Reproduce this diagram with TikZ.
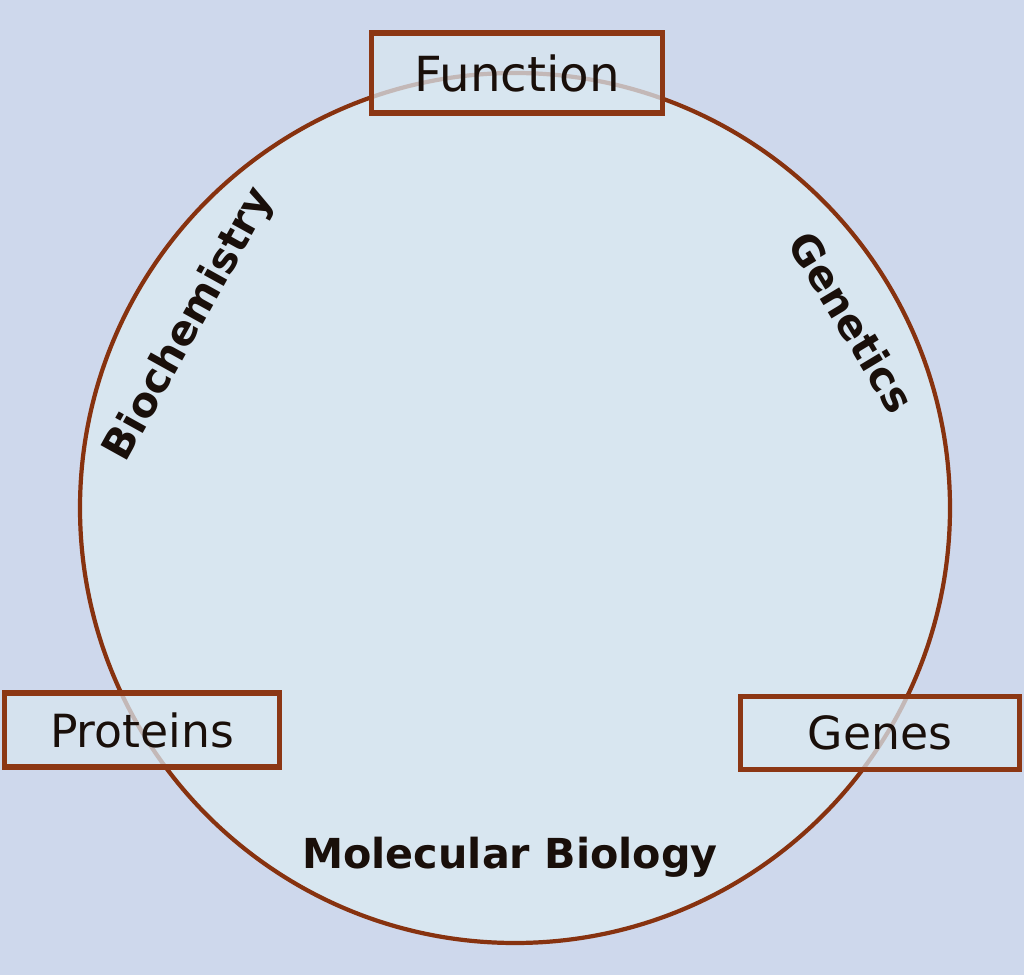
\documentclass[tikz,border=0pt]{standalone}
\usepackage{fontspec}
\setmainfont{DejaVu Sans}
\usetikzlibrary{positioning}

\definecolor{backblue}{RGB}{206,216,236}
\definecolor{innerblue}{RGB}{216,230,240}
\definecolor{ringbrown}{RGB}{135,50,15}
\definecolor{boxbrown}{RGB}{140,55,20}
\definecolor{inkblack}{RGB}{25,15,10}

\tikzset{
    topicbox/.style={draw=boxbrown, line width=3pt, fill=innerblue, fill opacity=0.75,
        draw opacity=1, text opacity=1, text=inkblack, font=\fontsize{26}{28}\selectfont,
        inner sep=0pt},
    fieldlabel/.style={text=inkblack, font=\bfseries\fontsize{23.5}{26}\selectfont, inner sep=0pt}
}

\begin{document}
\begin{tikzpicture}
    \useasboundingbox (0,0) rectangle (20.48,19.5);
    \fill[backblue] (0,0) rectangle (20.48,19.5);
    \coordinate (centre) at (10.3,9.34);
    \fill[innerblue] (centre) circle (8.7);
    \draw[ringbrown, line width=2.4pt] (centre) circle (8.7);
    % the three corners
    \node[topicbox, minimum width=5.82cm, minimum height=1.6cm, font=\fontsize{27.5}{30}\selectfont] (function) at (10.34,18.04) {Function};
    \node[topicbox, minimum width=5.5cm, minimum height=1.48cm] (proteins) at (2.84,4.9) {Proteins};
    \node[topicbox, minimum width=5.58cm, minimum height=1.46cm] (genes) at (17.6,4.84) {Genes};
    % the three sides
    \node[fieldlabel, rotate=61] (biochem) at (3.8,13.0) {Biochemistry};
    \node[fieldlabel, rotate=-59] (genetics) at (17.04,13.06) {Genetics};
    \node[fieldlabel] (molbio) at (10.2,2.35) {Molecular Biology};
\end{tikzpicture}
\end{document}
